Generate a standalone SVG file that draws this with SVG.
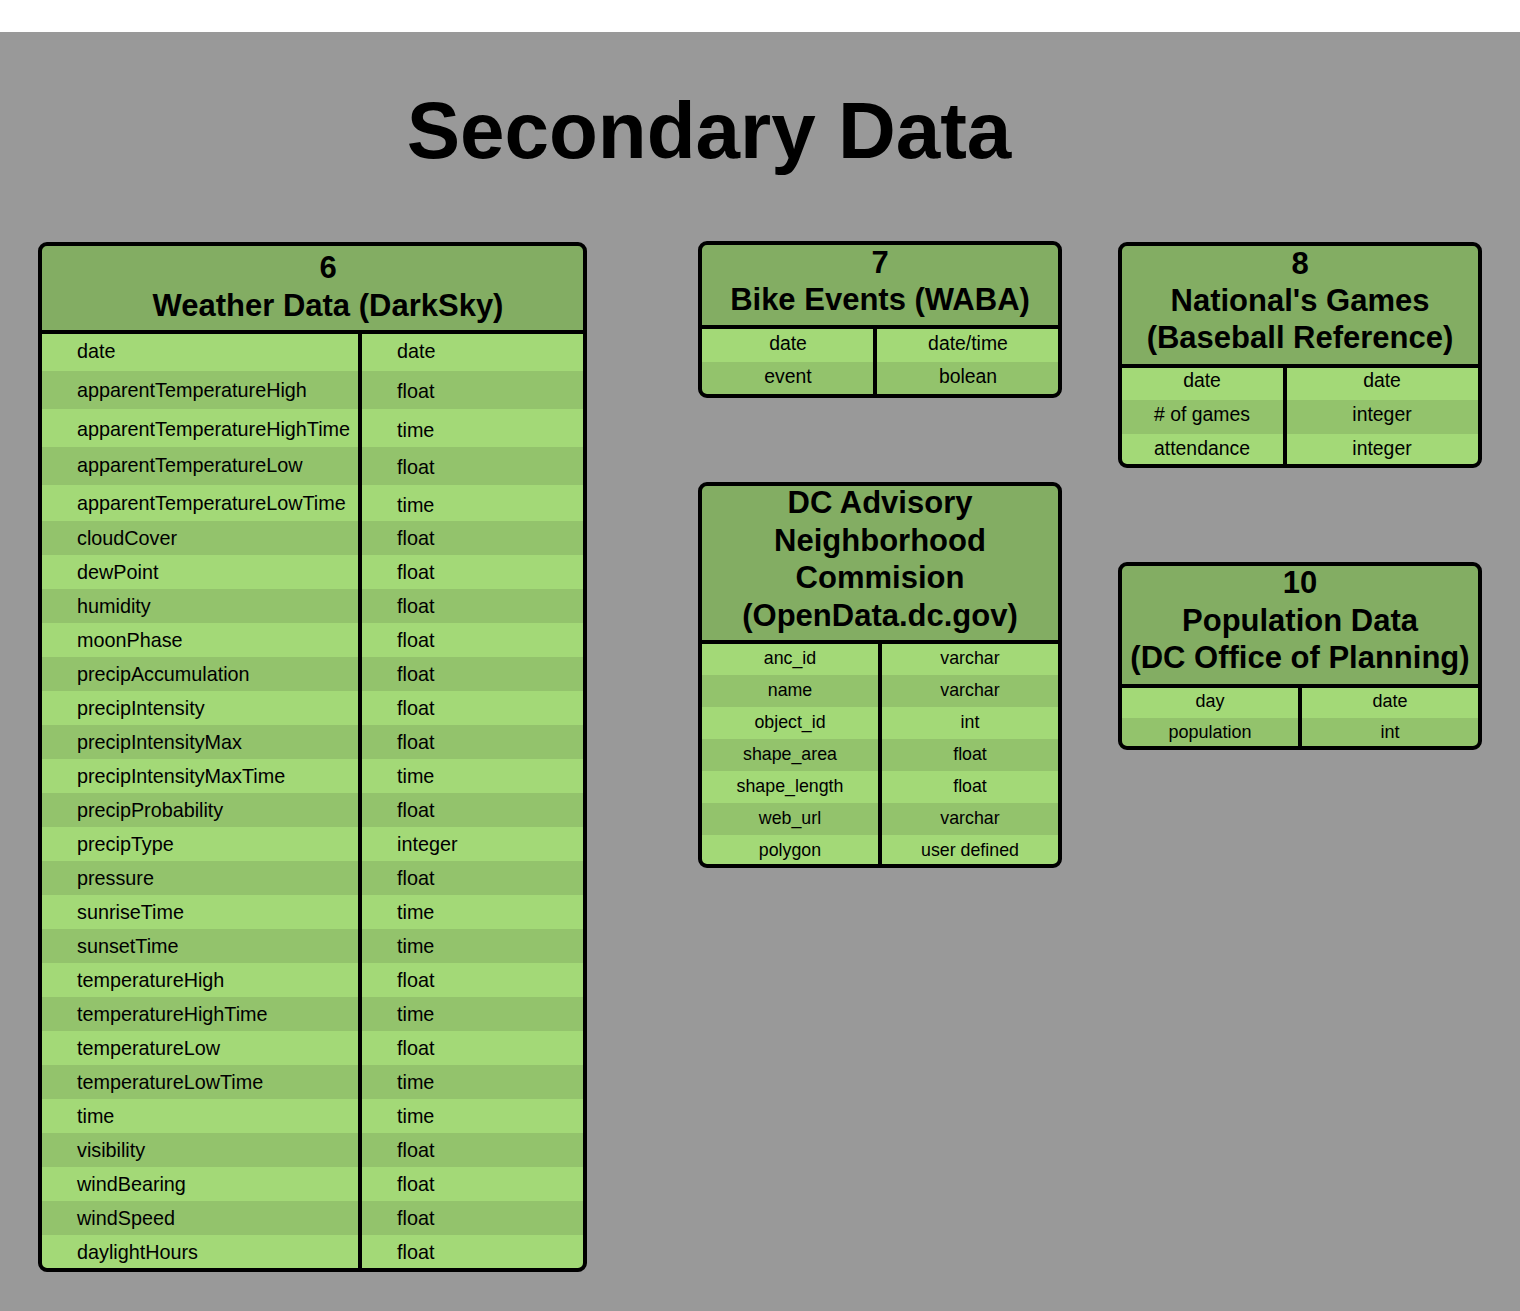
<svg xmlns="http://www.w3.org/2000/svg" width="1520" height="1311" viewBox="0 0 1520 1311">
<style>
.bg{fill:#999999}
.hdr{fill:#83ad63}
.lt{fill:#a3d977}
.dk{fill:#93c36c}
.frame{fill:none;stroke:#000;stroke-width:4}
.ln{stroke:#000;stroke-width:4}
.title{font-family:"Liberation Sans",Arial,sans-serif;font-weight:bold;font-size:80px;fill:#000;text-anchor:middle}
.h{font-family:"Liberation Sans",Arial,sans-serif;font-weight:bold;font-size:31px;fill:#000;text-anchor:middle}
.w{font-family:"Liberation Sans",Arial,sans-serif;font-size:19.8px;fill:#000}
.c{font-family:"Liberation Sans",Arial,sans-serif;font-size:19.4px;fill:#000;text-anchor:middle}
.s{font-family:"Liberation Sans",Arial,sans-serif;font-size:17.8px;fill:#000;text-anchor:middle}
.p{font-family:"Liberation Sans",Arial,sans-serif;font-size:18px;fill:#000;text-anchor:middle}
</style>
<rect x="0" y="0" width="1520" height="1311" fill="#ffffff"/>
<rect class="bg" x="0" y="32" width="1520" height="1279"/>
<text class="title" x="709" y="158">Secondary Data</text>

<g id="connectors"></g>

<g id="node6">
<rect class="lt" x="40" y="244" width="545" height="1026" rx="7"/>
<rect class="hdr" x="40" y="244" width="545" height="88" rx="7"/>
<g class="dk">
<rect x="40" y="371" width="545" height="38"/>
<rect x="40" y="447" width="545" height="38"/>
<rect x="40" y="521" width="545" height="34"/>
<rect x="40" y="589" width="545" height="34"/>
<rect x="40" y="657" width="545" height="34"/>
<rect x="40" y="725" width="545" height="34"/>
<rect x="40" y="793" width="545" height="34"/>
<rect x="40" y="861" width="545" height="34"/>
<rect x="40" y="929" width="545" height="34"/>
<rect x="40" y="997" width="545" height="34"/>
<rect x="40" y="1065" width="545" height="34"/>
<rect x="40" y="1133" width="545" height="34"/>
<rect x="40" y="1201" width="545" height="34"/>
</g>
<line class="ln" x1="40" y1="332" x2="585" y2="332"/>
<line class="ln" x1="360" y1="332" x2="360" y2="1270"/>
<rect class="frame" x="40" y="244" width="545" height="1026" rx="7"/>
<text class="h" x="328" y="278">6</text>
<text class="h" x="328" y="316">Weather Data (DarkSky)</text>
<g class="w">
<text x="77" y="358">date</text><text x="397" y="358">date</text>
<text x="77" y="397">apparentTemperatureHigh</text><text x="397" y="398">float</text>
<text x="77" y="436">apparentTemperatureHighTime</text><text x="397" y="437">time</text>
<text x="77" y="472">apparentTemperatureLow</text><text x="397" y="474">float</text>
<text x="77" y="510">apparentTemperatureLowTime</text><text x="397" y="512">time</text>
<text x="77" y="545">cloudCover</text><text x="397" y="545">float</text>
<text x="77" y="579">dewPoint</text><text x="397" y="579">float</text>
<text x="77" y="613">humidity</text><text x="397" y="613">float</text>
<text x="77" y="647">moonPhase</text><text x="397" y="647">float</text>
<text x="77" y="681">precipAccumulation</text><text x="397" y="681">float</text>
<text x="77" y="715">precipIntensity</text><text x="397" y="715">float</text>
<text x="77" y="749">precipIntensityMax</text><text x="397" y="749">float</text>
<text x="77" y="783">precipIntensityMaxTime</text><text x="397" y="783">time</text>
<text x="77" y="817">precipProbability</text><text x="397" y="817">float</text>
<text x="77" y="851">precipType</text><text x="397" y="851">integer</text>
<text x="77" y="885">pressure</text><text x="397" y="885">float</text>
<text x="77" y="919">sunriseTime</text><text x="397" y="919">time</text>
<text x="77" y="953">sunsetTime</text><text x="397" y="953">time</text>
<text x="77" y="987">temperatureHigh</text><text x="397" y="987">float</text>
<text x="77" y="1021">temperatureHighTime</text><text x="397" y="1021">time</text>
<text x="77" y="1055">temperatureLow</text><text x="397" y="1055">float</text>
<text x="77" y="1089">temperatureLowTime</text><text x="397" y="1089">time</text>
<text x="77" y="1123">time</text><text x="397" y="1123">time</text>
<text x="77" y="1157">visibility</text><text x="397" y="1157">float</text>
<text x="77" y="1191">windBearing</text><text x="397" y="1191">float</text>
<text x="77" y="1225">windSpeed</text><text x="397" y="1225">float</text>
<text x="77" y="1259">daylightHours</text><text x="397" y="1259">float</text>
</g>
</g>

<g id="node7">
<rect class="lt" x="700" y="243" width="360" height="153" rx="7"/>
<rect class="hdr" x="700" y="243" width="360" height="84" rx="7"/>
<rect class="dk" x="700" y="362" width="360" height="34"/>
<line class="ln" x1="700" y1="327" x2="1060" y2="327"/>
<line class="ln" x1="875" y1="327" x2="875" y2="396"/>
<rect class="frame" x="700" y="243" width="360" height="153" rx="7"/>
<text class="h" x="880" y="273">7</text>
<text class="h" x="880" y="310">Bike Events (WABA)</text>
<text class="c" x="788" y="350">date</text><text class="c" x="968" y="350">date/time</text>
<text class="c" x="788" y="383">event</text><text class="c" x="968" y="383">bolean</text>
</g>

<g id="node8">
<rect class="lt" x="1120" y="244" width="360" height="222" rx="7"/>
<rect class="hdr" x="1120" y="244" width="360" height="122" rx="7"/>
<rect class="dk" x="1120" y="400" width="360" height="34"/>
<line class="ln" x1="1120" y1="366" x2="1480" y2="366"/>
<line class="ln" x1="1285" y1="366" x2="1285" y2="466"/>
<rect class="frame" x="1120" y="244" width="360" height="222" rx="7"/>
<text class="h" x="1300" y="274">8</text>
<text class="h" x="1300" y="311">National's Games</text>
<text class="h" x="1300" y="348">(Baseball Reference)</text>
<text class="c" x="1202" y="387">date</text><text class="c" x="1382" y="387">date</text>
<text class="c" x="1202" y="421"># of games</text><text class="c" x="1382" y="421">integer</text>
<text class="c" x="1202" y="455">attendance</text><text class="c" x="1382" y="455">integer</text>
</g>

<g id="node9">
<rect class="lt" x="700" y="484" width="360" height="382" rx="7"/>
<rect class="hdr" x="700" y="484" width="360" height="158" rx="7"/>
<g class="dk">
<rect x="700" y="675" width="360" height="32"/>
<rect x="700" y="739" width="360" height="32"/>
<rect x="700" y="803" width="360" height="32"/>
</g>
<line class="ln" x1="700" y1="642" x2="1060" y2="642"/>
<line class="ln" x1="880" y1="642" x2="880" y2="866"/>
<rect class="frame" x="700" y="484" width="360" height="382" rx="7"/>
<text class="h" x="880" y="513">DC Advisory</text>
<text class="h" x="880" y="551">Neighborhood</text>
<text class="h" x="880" y="588">Commision</text>
<text class="h" x="880" y="626">(OpenData.dc.gov)</text>
<text class="s" x="790" y="663.5">anc_id</text><text class="s" x="970" y="663.5">varchar</text>
<text class="s" x="790" y="695.5">name</text><text class="s" x="970" y="695.5">varchar</text>
<text class="s" x="790" y="727.5">object_id</text><text class="s" x="970" y="727.5">int</text>
<text class="s" x="790" y="759.5">shape_area</text><text class="s" x="970" y="759.5">float</text>
<text class="s" x="790" y="791.5">shape_length</text><text class="s" x="970" y="791.5">float</text>
<text class="s" x="790" y="823.5">web_url</text><text class="s" x="970" y="823.5">varchar</text>
<text class="s" x="790" y="855.5">polygon</text><text class="s" x="970" y="855.5">user defined</text>
</g>

<g id="node10">
<rect class="lt" x="1120" y="564" width="360" height="184" rx="7"/>
<rect class="hdr" x="1120" y="564" width="360" height="122" rx="7"/>
<rect class="dk" x="1120" y="718" width="360" height="30"/>
<line class="ln" x1="1120" y1="686" x2="1480" y2="686"/>
<line class="ln" x1="1300" y1="686" x2="1300" y2="748"/>
<rect class="frame" x="1120" y="564" width="360" height="184" rx="7"/>
<text class="h" x="1300" y="593">10</text>
<text class="h" x="1300" y="631">Population Data</text>
<text class="h" x="1300" y="668">(DC Office of Planning)</text>
<text class="p" x="1210" y="706.5">day</text><text class="p" x="1390" y="706.5">date</text>
<text class="p" x="1210" y="738">population</text><text class="p" x="1390" y="738">int</text>
</g>
</svg>
